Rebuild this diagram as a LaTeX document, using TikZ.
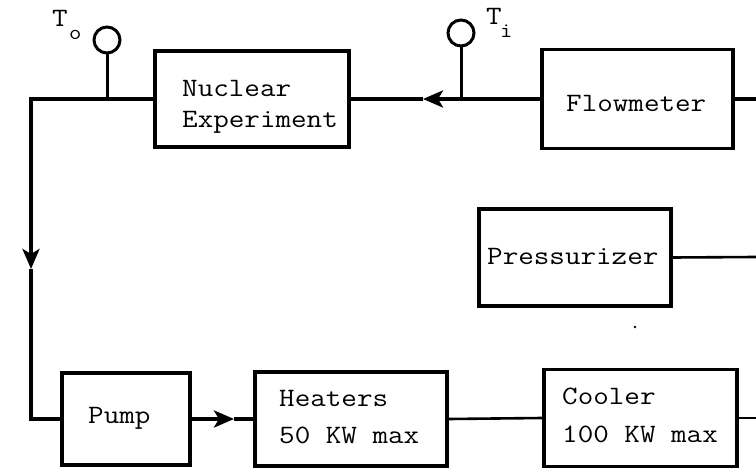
\documentclass[tikz,border=0pt]{standalone}
\usetikzlibrary{arrows.meta}
\begin{document}
\begin{tikzpicture}[x=1pt,y=-1pt,
  box/.style={draw, line width=3.5pt, inner sep=0pt, rectangle},
  lbl/.style={anchor=base west, inner sep=0pt, xscale=1.14, transform shape, font=\ttfamily\fontsize{26.5}{30}\selectfont},
  sub/.style={anchor=base west, inner sep=0pt, xscale=1.14, transform shape, font=\ttfamily\fontsize{21}{24}\selectfont},
  pipe/.style={line width=4pt},
  thin pipe/.style={line width=2.6pt},
  sensor/.style={draw, circle, line width=3pt, minimum size=26pt, inner sep=0pt},
  arr/.style={-{Stealth[length=20pt,width=17pt,inset=5pt]}}]
\useasboundingbox (0,0) rectangle (756,468);
\fill[white] (0,0) rectangle (756,468);

% boxes
\node[box, minimum width=194pt, minimum height=96pt] (nuc) at (252,99) {};
\node[box, minimum width=191pt, minimum height=99pt] (flow) at (637.5,99) {};
\node[box, minimum width=192pt, minimum height=97pt] (press) at (575,257.5) {};
\node[box, minimum width=128pt, minimum height=92pt] (pump) at (126,419) {};
\node[box, minimum width=192pt, minimum height=94pt] (heat) at (351,419) {};
\node[box, minimum width=193pt, minimum height=97pt] (cool) at (640.5,418) {};

% texts
\node[lbl] (tnuc1) at (182,97) {Nuclear};
\node[lbl] (tnuc2) at (182,128) {Experiment};
\node[lbl] (tflow) at (566,112) {Flowmeter};
\node[lbl] (tpress) at (487,265) {Pressurizer};
\node[lbl] (tpump) at (88,423) {Pump};
\node[lbl] (theat1) at (279,406) {Heaters};
\node[lbl] (theat2) at (279,443) {50 KW max};
\node[lbl] (tcool1) at (562,404) {Cooler};
\node[lbl] (tcool2) at (562,442) {100 KW max};

% sensors
\node[sensor] (so) at (107,40) {};
\node[sensor] (si) at (461,33) {};
\node[lbl] (to1) at (52,27) {T};
\node[sub] (to2) at (69,40) {o};
\node[lbl] (ti1) at (486,25) {T};
\node[sub] (ti2) at (500,38) {i};

% coordinates
\coordinate (ea) at (756,99);
\coordinate (eb) at (756,257);
\coordinate (ec) at (756,418);
\coordinate (arrA) at (423,99);
\coordinate (c1) at (31,99);
\coordinate (arrB) at (31,269);
\coordinate (c2) at (31,419);
\coordinate (arrC) at (234,419);

% connectors
\draw[pipe] (flow.east) -- (ea);
\draw[pipe, arr] (flow.west) -- (arrA);
\draw[pipe] (arrA) -- (nuc.east);
\draw[pipe, line join=miter, arr] (nuc.west) -- (c1) -- (arrB);
\draw[pipe, line join=miter] (arrB) -- (c2) -- (pump.west);
\draw[pipe, arr] (pump.east) -- (arrC);
\draw[pipe] (arrC) -- (heat.west);
\draw[thin pipe] (heat.east) -- (cool.west);
\draw[thin pipe] (cool.east) -- (ec);
\draw[thin pipe] (press.east) -- (eb);
\draw[line width=3pt] (so.south) -- (so.south |- nuc.west);
\draw[line width=3pt] (si.south) -- (si.south |- flow.west);

% speck
\fill (635,327) circle (1.3pt);
\end{tikzpicture}
\end{document}
